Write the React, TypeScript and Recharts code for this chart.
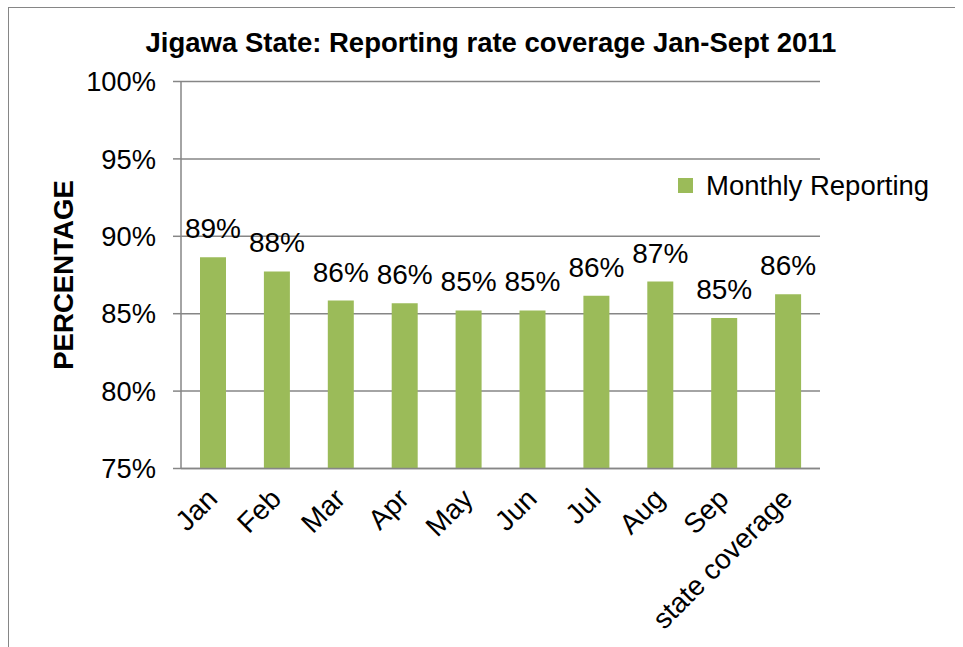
import React from 'react';
import { BarChart, Bar, XAxis, YAxis, CartesianGrid, Legend, LabelList, Customized } from 'recharts';

const categories = ['Jan', 'Feb', 'Mar', 'Apr', 'May', 'Jun', 'Jul', 'Aug', 'Sep', 'state coverage'];
const monthlyReporting = [88.65, 87.73, 85.85, 85.68, 85.21, 85.21, 86.16, 87.08, 84.73, 86.26];
const yTicks = [75, 80, 85, 90, 95, 100];
const seriesName = 'Monthly Reporting';
const chartTitle = 'Jigawa State: Reporting rate coverage Jan-Sept 2011';
const yAxisTitle = 'PERCENTAGE';

const data = categories.map((c, i) => ({ name: c, value: monthlyReporting[i] }));

const FONT = '"Liberation Sans", Arial, Helvetica, sans-serif';
const GREEN = '#9BBB59';
const GRAY = '#868686';
const W = 946;
const H = 639;

const XTick = (props: any) => {
  const { x, y, payload } = props;
  const ax = x + 6;
  const ay = y + 32;
  return (
    <text x={ax} y={ay} transform={`rotate(-45, ${ax}, ${ay})`} textAnchor="end" fontSize={28} fill="#000" fontFamily={FONT}>
      {payload.value}
    </text>
  );
};

const YTitle = (props: any) => {
  const vb = props.viewBox || { x: 0, y: 0, width: 0, height: 0 };
  const cx = vb.x + 32;
  const cy = vb.y + vb.height / 2;
  return (
    <text x={cx} y={cy} transform={`rotate(-90, ${cx}, ${cy})`} textAnchor="middle" dominantBaseline="central" fontSize={27.6} fontWeight="bold" fill="#000" fontFamily={FONT}>
      {yAxisTitle}
    </text>
  );
};

const LegendContent = () => (
  <div style={{ display: 'flex', alignItems: 'center', fontFamily: FONT, fontSize: 27.5, lineHeight: '27px', color: '#000', whiteSpace: 'nowrap' }}>
    <span style={{ display: 'inline-block', width: 15, height: 15, background: GREEN, marginRight: 13 }} />
    <span>{seriesName}</span>
  </div>
);

export default function App() {
  return (
    <div style={{ position: 'absolute', left: 8, top: 7, width: W, height: H, borderTop: `1px solid ${GRAY}`, borderLeft: `1px solid ${GRAY}`, background: '#fff', fontFamily: FONT }}>
      <BarChart width={W} height={H} data={data} margin={{ top: 73.5, right: 135, bottom: 28.5, left: 22 }}>
        <Customized component={() => (
          <text x={482} y={44.3} textAnchor="middle" fontWeight="bold" fontSize={27.5} fill="#000" fontFamily={FONT}>{chartTitle}</text>
        )} />
        <CartesianGrid vertical={false} stroke={GRAY} strokeWidth={1.5} />
        <XAxis dataKey="name" height={150} interval={0} tickLine={false} tickSize={0} tickMargin={0} axisLine={{ stroke: GRAY, strokeWidth: 1.5 }} tick={<XTick />} />
        <YAxis width={150} domain={[75, 100]} ticks={yTicks} allowDataOverflow tickFormatter={(v: number) => `${v}%`} tickSize={8} tickMargin={17} tickLine={{ stroke: GRAY, strokeWidth: 1.5 }} axisLine={{ stroke: GRAY, strokeWidth: 1.5 }} tick={{ fill: '#000', fontSize: 27.3, fontFamily: FONT }} label={<YTitle />} />
        <Legend layout="horizontal" verticalAlign="middle" align="center" content={<LegendContent />} wrapperStyle={{ position: 'absolute', left: 669, top: 164, width: 'auto', height: 'auto' }} />
        <Bar dataKey="value" name={seriesName} fill={GREEN} barSize={26} isAnimationActive={false}>
          <LabelList dataKey="value" position="top" offset={19} fill="#000" fontSize={28} fontFamily={FONT} formatter={(v: any) => `${Math.round(Number(v))}%`} />
        </Bar>
      </BarChart>
    </div>
  );
}
